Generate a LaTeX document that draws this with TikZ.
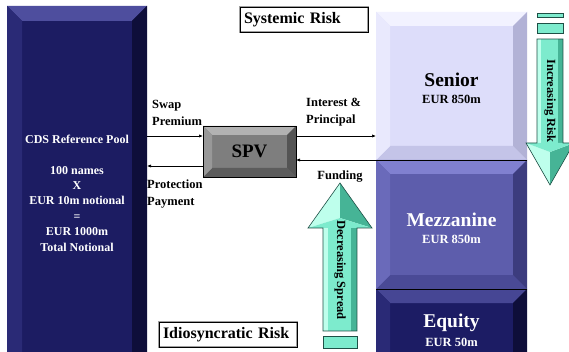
\documentclass[tikz,border=0pt]{standalone}
\usepackage{fontspec}
\setmainfont{Liberation Serif}
\usetikzlibrary{arrows.meta}

\definecolor{poolbase}{RGB}{28,28,98}
\definecolor{pooltop}{RGB}{78,78,158}
\definecolor{poolbot}{RGB}{20,20,75}
\definecolor{poolleft}{RGB}{42,42,118}
\definecolor{poolright}{RGB}{14,14,58}

\definecolor{senbase}{RGB}{221,221,250}
\definecolor{sentop}{RGB}{242,242,255}
\definecolor{senbot}{RGB}{196,196,232}
\definecolor{senleft}{RGB}{233,233,253}
\definecolor{senright}{RGB}{178,178,214}

\definecolor{mezbase}{RGB}{93,93,172}
\definecolor{meztop}{RGB}{128,128,208}
\definecolor{mezbot}{RGB}{74,74,150}
\definecolor{mezleft}{RGB}{106,106,186}
\definecolor{mezright}{RGB}{60,60,126}

\definecolor{eqbase}{RGB}{28,28,100}
\definecolor{eqtop}{RGB}{70,70,148}
\definecolor{eqbot}{RGB}{20,20,75}
\definecolor{eqleft}{RGB}{42,42,118}
\definecolor{eqright}{RGB}{14,14,58}

\definecolor{spvbase}{RGB}{126,126,126}
\definecolor{spvtop}{RGB}{178,178,178}
\definecolor{spvbot}{RGB}{92,92,92}
\definecolor{spvleft}{RGB}{152,152,152}
\definecolor{spvright}{RGB}{84,84,84}

\definecolor{aqbase}{RGB}{125,235,205}
\definecolor{aqlight}{RGB}{190,255,236}
\definecolor{aqdark}{RGB}{70,180,150}
\definecolor{aqline}{RGB}{30,80,70}

\newcommand{\bevbox}[6]{%
  \fill[#6base] (#1,#2) rectangle (#3,#4);
  \fill[#6top] (#1,#2) -- (#3,#2) -- ({#3-#5},{#2+#5}) -- ({#1+#5},{#2+#5}) -- cycle;
  \fill[#6bot] (#1,#4) -- (#3,#4) -- ({#3-#5},{#4-#5}) -- ({#1+#5},{#4-#5}) -- cycle;
  \fill[#6left] (#1,#2) -- ({#1+#5},{#2+#5}) -- ({#1+#5},{#4-#5}) -- (#1,#4) -- cycle;
  \fill[#6right] (#3,#2) -- ({#3-#5},{#2+#5}) -- ({#3-#5},{#4-#5}) -- (#3,#4) -- cycle;
}

\tikzset{
  boxn/.style={inner sep=0pt, outer sep=0pt, draw=none},
  lbl/.style={inner sep=0pt, font=\fontsize{12.5}{17}\selectfont\bfseries, align=left},
  amt/.style={inner sep=0pt, font=\fontsize{12.5}{15}\selectfont\bfseries},
  big/.style={inner sep=0pt, font=\fontsize{19.5}{22}\selectfont\bfseries},
  rot/.style={inner sep=0pt, rotate=-90, font=\fontsize{12.5}{15}\selectfont\bfseries},
  riskbox/.style={draw=gray!75, double=black, double distance=0.6pt, line width=0.9pt,
    fill=white, inner sep=4pt, align=left, minimum height=25pt,
    font=\fontsize{16}{18}\selectfont\bfseries},
  conn/.style={line width=0.7pt, -{Latex[length=4pt,width=3.2pt]}},
  aq/.style={fill=aqbase, draw=aqline, line width=0.6pt},
}

\begin{document}
\begin{tikzpicture}[x=1pt,y=-1pt]
\clip (0,0) rectangle (569,352);
\fill[white] (0,0) rectangle (569,352);

% boxes
\bevbox{7}{6}{147}{372}{15}{pool}
\bevbox{376}{12}{527}{160}{14}{sen}
\bevbox{376}{160}{527}{289}{14}{mez}
\bevbox{376}{289}{527}{372}{14}{eq}
\draw[black, line width=0.8pt] (376,160) -- (527,160);
\draw[black, line width=0.8pt] (376,289) -- (527,289);
\bevbox{203}{126}{296}{177}{9}{spv}
\draw[black, line width=0.8pt] (203,126) rectangle (296,177);

\node[boxn, minimum width=140pt, minimum height=366pt] (pool) at (77,189) {};
\node[boxn, minimum width=151pt, minimum height=148pt] (senior) at (451.5,86) {};
\node[boxn, minimum width=151pt, minimum height=129pt] (mezz) at (451.5,224.5) {};
\node[boxn, minimum width=151pt, minimum height=83pt] (equity) at (451.5,330.5) {};
\node[boxn, minimum width=93pt, minimum height=51pt, font=\fontsize{19}{22}\selectfont\bfseries] (spv) at (249.5,151.5) {SPV};

% texts in boxes
\node[inner sep=0pt, white, align=center, font=\fontsize{12}{15.4}\selectfont\bfseries] (pooltxt) at (77,193)
  {CDS Reference Pool\\[15.4pt]100 names\\X\\EUR 10m notional\\=\\EUR 1000m\\Total Notional};
\node[big] (sentxt) at (451.5,80) {Senior};
\node[amt] (senamt) at (451.5,99.5) {EUR 850m};
\node[big, white] (meztxt) at (451.5,220) {Mezzanine};
\node[amt, white] (mezamt) at (451.5,239.5) {EUR 850m};
\node[big, white] (eqtxt) at (451.5,323) {Equity};
\node[amt, white] (eqamt) at (451.5,342) {EUR 50m};

% connectors
\coordinate (c1) at ([yshift=15.5pt]spv.west);
\draw[conn] (c1 -| pool.east) -- (c1);
\coordinate (c2) at ([yshift=15.5pt]spv.east);
\draw[conn] (c2) -- (c2 -| senior.west);
\draw[conn] (senior.south west) -- (senior.south west -| spv.east);
\coordinate (c3) at ([yshift=-14.5pt]spv.west);
\draw[conn] (c3) -- (c3 -| pool.east);

% labels
\node[lbl, anchor=west] (swap) at (152,112.5) {Swap\\Premium};
\node[lbl, anchor=west] (intp) at (306,112.5) {Interest \&\\Principal};
\node[lbl, anchor=west] (prot) at (147,194.5) {Protection\\Payment};

% risk boxes
\node[riskbox, text width=120pt] (sys) at (304,19.5) {Systemic Risk};
\node[riskbox, text width=130pt] (idio) at (228,334.5) {Idiosyncratic Risk};

% decreasing spread arrow (up)
\fill[aqbase] (323,228) rectangle (357,331);
\fill[aqlight] (323,228) rectangle (328,331);
\fill[aqdark] (351,228) rectangle (357,331);
\fill[aqlight] (340,183) -- (308,228) -- (340,218) -- cycle;
\fill[aqdark] (340,183) -- (372,228) -- (340,218) -- cycle;
\fill[aqbase] (308,228) -- (372,228) -- (340,218) -- cycle;
\draw[aqline, line width=0.6pt] (340,183) -- (372,228) -- (357,228) -- (357,331) -- (323,331) -- (323,228) -- (308,228) -- cycle;
\draw[aq] (323,336) rectangle (357,348);
\node[rot] (decr) at (340,270) {Decreasing Spread};
\node[lbl] (fund) at (340,177) {Funding};

% increasing risk arrow (down)
\draw[aq] (537,13) rectangle (563,17);
\draw[aq] (537,23) rectangle (563,33);
\fill[aqbase] (537,39) rectangle (563,143);
\fill[aqlight] (537,39) rectangle (541,143);
\fill[aqdark] (558,39) rectangle (563,143);
\fill[aqlight] (550,185) -- (526,143) -- (550,152) -- cycle;
\fill[aqdark] (550,185) -- (574,143) -- (550,152) -- cycle;
\fill[aqbase] (526,143) -- (574,143) -- (550,152) -- cycle;
\draw[aqline, line width=0.6pt] (550,185) -- (574,143) -- (563,143) -- (563,39) -- (537,39) -- (537,143) -- (526,143) -- cycle;
\node[rot] (incr) at (550,101) {Increasing Risk};
\end{tikzpicture}
\end{document}
